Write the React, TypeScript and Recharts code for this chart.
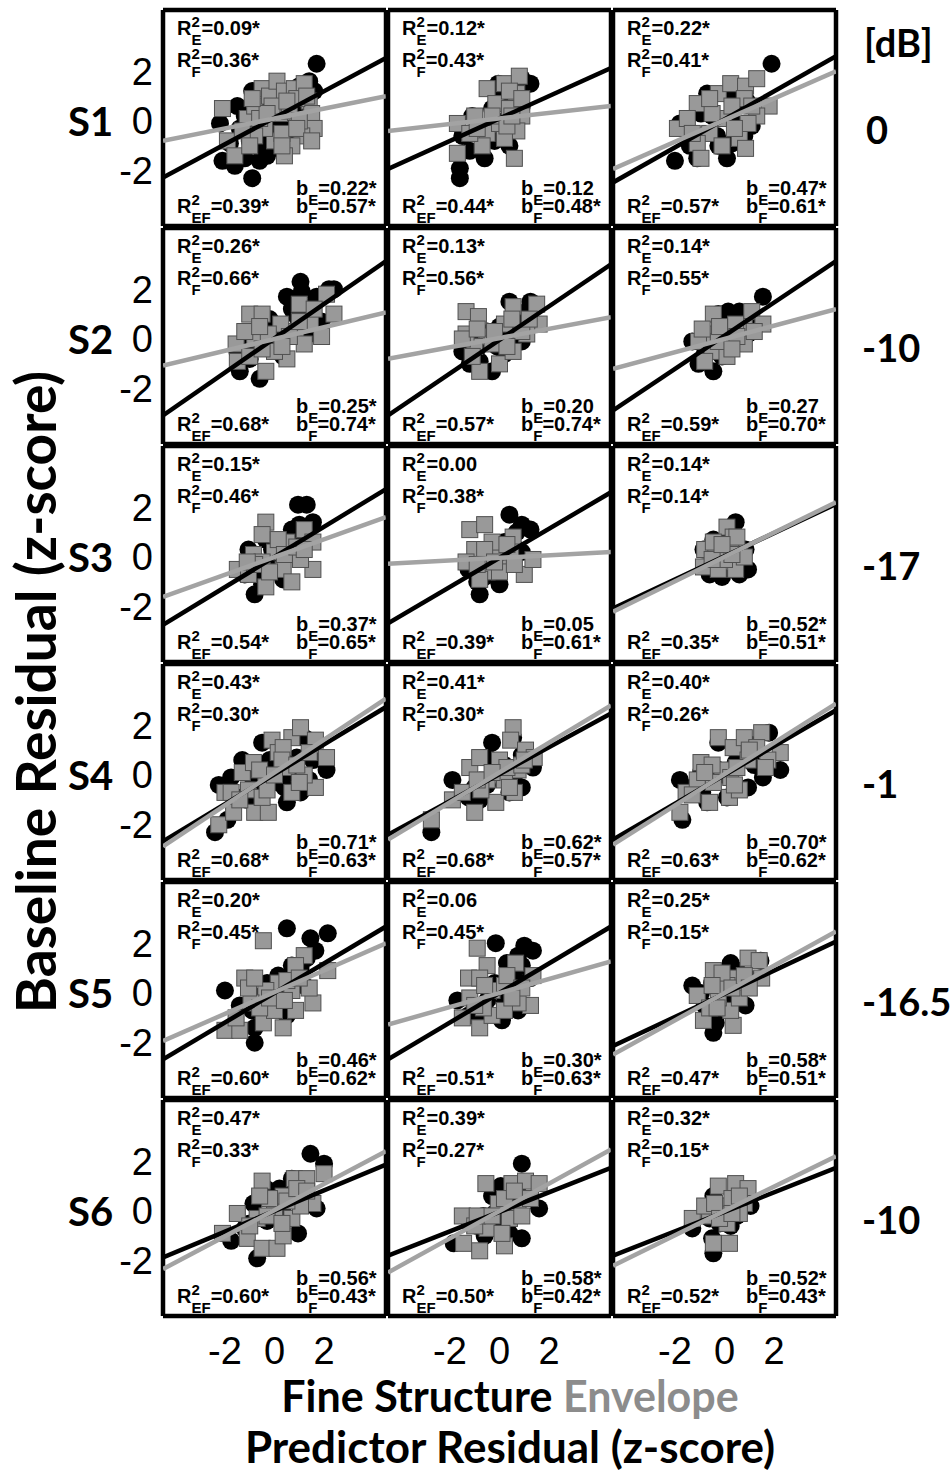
import { ScatterChart, Scatter, XAxis, YAxis } from 'recharts';

// row / column labels
const subjects = ['S1', 'S2', 'S3', 'S4', 'S5', 'S6'];
const snrLabels = ['0', '-10', '-17', '-1', '-16.5', '-10'];
const frameTicks = [-4, -2, 0, 2, 4];
const labelTicks = [-2, 0, 2];

// panel stats, row-major (S1 col1, S1 col2, S1 col3, S2 col1, ...)
const rE2 = ['0.09*', '0.12*', '0.22*', '0.26*', '0.13*', '0.14*', '0.15*', '0.00', '0.14*', '0.43*', '0.41*', '0.40*', '0.20*', '0.06', '0.25*', '0.47*', '0.39*', '0.32*'];
const rF2 = ['0.36*', '0.43*', '0.41*', '0.66*', '0.56*', '0.55*', '0.46*', '0.38*', '0.14*', '0.30*', '0.30*', '0.26*', '0.45*', '0.45*', '0.15*', '0.33*', '0.27*', '0.15*'];
const rEF2 = ['0.39*', '0.44*', '0.57*', '0.68*', '0.57*', '0.59*', '0.54*', '0.39*', '0.35*', '0.68*', '0.68*', '0.63*', '0.60*', '0.51*', '0.47*', '0.60*', '0.50*', '0.52*'];
const bE = ['0.22*', '0.12', '0.47*', '0.25*', '0.20', '0.27', '0.37*', '0.05', '0.52*', '0.71*', '0.62*', '0.70*', '0.46*', '0.30*', '0.58*', '0.56*', '0.58*', '0.52*'];
const bF = ['0.57*', '0.48*', '0.61*', '0.74*', '0.74*', '0.70*', '0.65*', '0.61*', '0.51*', '0.63*', '0.57*', '0.62*', '0.62*', '0.63*', '0.51*', '0.43*', '0.42*', '0.43*'];

// fine structure residuals (black circles), [x, y] per point
const fsPoints = [
  [[1.7, 2.3], [1.4, 1.6], [1.6, 1.2], [1.2, 1.0], [-0.9, 1.2], [-1.5, 0.6], [-1.2, 0.2], [-2.2, -0.1], [-2.1, -1.6], [-1.6, -1.8], [-1.2, -1.5], [-0.9, -2.3], [-0.6, -1.6], [-0.3, -1.4], [0.2, -1.1], [0.5, -0.9], [0.9, -0.4], [-0.5, 0.4], [0.3, 0.8], [0.8, 0.5], [-1.8, -0.9], [1.0, 1.4], [-0.2, -0.5], [0.0, 1.0], [-1.0, -0.8], [-0.7, -1.0], [0.6, 1.1], [1.3, 0.4], [-1.4, -0.3], [0.1, -0.2], [0.6, -0.3], [-0.4, -0.9]],
  [[-1.6, -1.9], [-1.6, -2.3], [-1.2, -1.2], [-0.6, -1.5], [-1.1, 0.2], [-0.05, 1.5], [1.25, 1.5], [0.9, 1.7], [-0.3, 0.5], [0.55, -0.2], [0.4, -1.0], [-1.5, -0.6], [0.0, 0.9], [0.6, 1.2], [-0.7, -0.3], [-0.2, -0.8], [0.9, 0.6], [0.2, 0.0]],
  [[1.9, 2.3], [-1.8, -0.1], [-2.0, -1.6], [-1.1, -1.5], [0.1, -1.5], [-0.7, 1.1], [0.25, 1.0], [0.4, 0.5], [-0.95, 0.3], [1.1, -0.2], [-0.25, -1.0], [0.8, -0.6], [-1.4, -1.0], [-0.5, 0.2], [0.6, -0.1], [0.9, 0.8], [-0.3, -0.6], [0.3, -0.9]],
  [[1.05, 2.3], [1.1, 1.9], [2.2, 2.0], [2.4, 2.0], [0.5, 1.7], [1.7, 1.7], [0.7, 1.2], [-0.2, 0.8], [1.9, 0.7], [-1.4, -1.3], [-0.6, -1.6], [-1.5, -0.5], [0.35, -0.7], [-0.85, 0.3], [1.4, 0.2], [-0.5, -0.1], [-1.0, -0.8], [-0.2, -0.4], [0.5, 0.2], [0.9, 0.9], [1.2, 1.3], [-1.1, -0.2], [0.1, 0.3]],
  [[0.4, 1.5], [1.25, 1.5], [0.7, 1.1], [-1.5, -0.5], [-1.2, -1.0], [-0.3, -1.3], [-0.8, -0.9], [0.2, -0.6], [0.9, -0.1], [-0.5, 0.3], [0.0, 0.5], [-1.2, 0.1], [-0.9, -0.4], [0.4, 0.2], [0.6, 0.7], [-0.1, -0.3], [1.0, 0.9]],
  [[1.55, 1.7], [0.15, 1.1], [0.6, 1.1], [-0.25, 1.0], [-1.05, -1.0], [-0.45, -1.3], [-0.8, -0.6], [-0.1, -0.7], [0.95, 0.2], [-1.3, -0.1], [0.25, -0.2], [-0.5, -0.2], [0.4, 0.4], [0.9, 0.8], [-0.7, -0.4]],
  [[0.95, 2.1], [1.3, 2.1], [1.55, 1.4], [-0.8, -1.5], [0.35, -0.9], [-1.05, 0.3], [-0.35, 0.7], [0.7, 1.1], [1.2, 0.7], [-0.2, -0.3], [-1.2, -0.7], [0.5, 0.1], [-0.5, -1.1], [-0.7, -0.6], [0.1, 0.0], [0.8, 0.4], [-0.1, 0.3], [1.0, 1.3]],
  [[0.4, 1.7], [1.25, 1.1], [0.7, 1.0], [-0.8, -1.5], [-1.25, -0.5], [0.0, -1.1], [-0.5, 0.2], [0.2, 0.6], [0.9, 0.2], [-0.3, -0.5], [-1.0, -0.1], [-0.6, -0.8], [0.3, 0.0], [0.6, 0.4], [-0.9, -1.0], [0.9, 1.3]],
  [[0.45, 1.4], [-0.85, 0.3], [-0.45, 0.7], [0.85, 0.3], [0.95, -0.5], [-0.6, -0.7], [-0.1, -0.8], [0.6, -0.7], [-0.1, 0.5], [0.25, -0.1], [0.2, 0.3], [-0.3, -0.3], [0.5, 0.0], [0.2, 1.0]],
  [[-2.4, -2.3], [-1.9, -1.8], [-2.25, -0.4], [-1.75, -0.1], [-1.3, 0.6], [-0.5, 1.3], [0.5, -1.1], [1.05, -0.7], [2.1, 0.2], [1.55, 0.6], [-0.2, 0.6], [-0.85, -0.2], [0.15, -0.3], [-1.1, -1.0], [0.7, 0.1], [1.2, 1.5], [-1.5, -0.9], [-0.6, -0.5], [0.3, 0.2], [0.9, 0.7], [-1.0, 0.4], [0.4, -0.5], [1.4, -0.2]],
  [[-2.75, -2.3], [-1.9, -0.2], [-0.3, 1.3], [0.55, 1.5], [1.35, 0.3], [0.9, -0.5], [-0.8, -1.0], [-1.25, -0.9], [0.0, 0.2], [-0.5, 0.7], [0.4, -0.7], [-0.5, -0.4], [0.2, 0.4], [0.6, 0.0], [-1.0, -0.5], [0.9, 0.8]],
  [[-1.7, -1.8], [-1.8, -0.2], [-0.7, -1.1], [-0.25, 1.3], [1.1, 1.2], [1.8, 1.7], [2.25, 0.2], [1.55, -0.1], [0.95, -0.5], [0.1, -0.9], [-0.95, 0.1], [0.45, 0.5], [-1.3, -0.5], [-0.9, -0.7], [0.0, 0.0], [0.6, 0.9], [1.2, 0.4], [-0.4, 0.3]],
  [[0.5, 2.6], [1.45, 2.2], [2.15, 2.4], [1.65, 1.7], [-2.0, 0.1], [-0.8, -2.0], [-0.8, -1.4], [-1.4, -0.5], [0.15, 0.7], [0.7, 1.1], [1.2, 0.3], [0.0, -0.5], [-0.5, -0.1], [1.05, 1.0], [0.5, -0.9], [-0.9, -0.7], [0.3, 0.2], [0.8, 0.6], [-0.3, 0.4], [1.3, 1.4]],
  [[-0.15, 2.0], [1.0, 1.9], [1.35, 1.7], [0.3, 1.2], [0.75, 1.5], [-1.7, -0.3], [-1.25, -0.9], [-0.8, -1.1], [0.1, -1.1], [0.75, -0.7], [-0.5, -0.3], [0.4, 0.1], [1.25, 0.6], [-1.0, -0.5], [0.2, -0.4], [0.6, 0.6], [-0.2, 0.4], [0.9, 1.1]],
  [[-1.3, 0.3], [-0.45, -1.6], [-0.35, -1.2], [0.25, 1.2], [1.45, 1.3], [0.95, 0.6], [0.85, -0.5], [-0.8, -0.5], [-0.1, 0.1], [-0.95, 0.0], [-0.5, 0.4], [0.4, -0.2], [0.5, 0.9], [-0.6, -0.9]],
  [[1.45, 2.3], [2.0, 1.9], [1.7, 0.1], [0.95, -0.9], [-0.7, -1.9], [-1.75, -1.2], [-0.85, 0.3], [-0.35, 0.9], [0.7, 1.3], [0.15, -0.3], [-1.2, -0.7], [1.2, 0.6], [-1.0, -0.5], [-0.3, -0.4], [0.4, 0.3], [0.9, 0.8], [-0.6, 0.5], [0.2, 0.9]],
  [[0.9, 1.9], [1.6, 0.1], [0.9, -1.1], [0.4, -0.9], [-1.85, -1.3], [-1.2, -0.5], [-0.3, 0.6], [0.05, 1.0], [0.75, 0.7], [-0.65, -0.2], [0.1, -0.5], [-0.9, -0.6], [-0.2, -0.1], [0.4, 0.3], [0.6, 1.0], [-0.6, -1.0]],
  [[-0.45, 0.6], [-0.5, -1.1], [-0.45, -1.7], [1.05, 0.2], [-1.3, -0.7], [-0.1, -0.1], [0.45, 0.6], [0.25, -0.6], [-0.6, -0.3], [0.1, 0.2], [0.5, -0.2], [-0.2, -0.5]],
];

// envelope residuals (grey squares), [x, y] per point
const envPoints = [
  [[-2.1, 0.5], [-1.9, -0.8], [-1.6, -1.4], [-1.1, 0.1], [-0.8, 0.6], [-0.5, 1.3], [-0.2, 1.0], [0.1, 1.6], [0.4, 1.2], [0.8, 1.3], [1.2, 1.5], [1.4, 0.8], [1.5, 0.3], [1.6, -0.3], [1.1, -0.6], [0.7, -1.0], [0.4, -1.4], [0.0, -0.8], [-0.4, -0.3], [-0.8, -0.6], [-1.3, -0.4], [-0.6, 0.1], [0.2, 0.3], [0.6, 0.4], [1.0, 0.0], [0.3, -0.5], [-0.1, 0.6], [0.9, 0.9], [-1.0, -1.0], [0.5, 0.8], [1.3, 1.0], [-0.3, 0.3], [0.9, -0.3], [-0.9, 0.9], [1.5, -0.8], [0.3, -1.0]],
  [[-1.7, -1.3], [-1.7, -0.1], [-1.0, 0.2], [-0.5, 1.3], [0.2, 1.5], [0.8, 1.8], [0.7, 1.1], [-0.15, 0.7], [0.4, 0.5], [0.9, 0.2], [0.7, -0.4], [0.6, -1.5], [0.2, -0.7], [-0.5, -0.5], [-0.7, -1.0], [0.0, -0.1], [-1.2, -0.5], [-0.3, 0.2], [0.4, 1.2], [0.9, 0.9], [-0.9, -0.3], [0.3, -0.2], [0.5, 0.2]],
  [[-1.9, -0.3], [-1.1, 0.7], [-0.25, 1.1], [0.25, 1.5], [0.85, 1.4], [1.3, 1.7], [1.8, 0.6], [1.3, 0.2], [0.8, 0.9], [-0.1, 0.1], [-0.6, -0.5], [-1.1, -0.9], [-0.95, -1.5], [-0.1, -1.0], [0.6, -0.7], [0.85, -1.1], [-1.5, 0.1], [0.95, -0.1], [-0.5, 0.3], [0.3, 0.6], [1.1, 0.6], [-0.6, 0.9], [0.4, -0.3], [-1.3, -0.5]],
  [[-1.0, 1.0], [-0.5, 1.0], [1.0, 1.4], [2.1, 1.8], [2.4, 1.0], [-1.55, -0.2], [-1.5, -0.9], [-0.35, -1.3], [0.5, -0.8], [0.0, -0.5], [0.85, 0.3], [1.45, 0.6], [1.9, 0.1], [0.25, 0.6], [-0.8, 0.0], [-1.0, -0.7], [1.2, -0.2], [-0.25, 0.2], [-0.5, -0.4], [0.6, 0.1], [1.0, 0.7], [-1.2, 0.3], [0.3, -0.3], [-0.6, 0.5], [1.6, 1.2]],
  [[-1.35, 1.1], [-0.85, 0.9], [0.55, 1.3], [1.5, 1.4], [1.6, 0.6], [1.1, 0.2], [0.2, 0.6], [-0.5, 0.1], [-1.0, -0.3], [-1.35, 0.2], [-0.8, -1.3], [0.0, -1.0], [0.55, -0.5], [-0.3, -0.2], [0.9, 0.3], [-1.5, 0.0], [-0.9, 0.4], [0.5, 0.8], [-0.2, 0.3], [0.3, -0.3], [-1.1, -0.7], [1.2, 0.8]],
  [[-0.45, 1.0], [1.1, 1.1], [1.55, 0.6], [0.8, 0.5], [0.1, 0.2], [-0.6, 0.2], [-1.05, -0.1], [-0.5, -0.5], [0.1, -0.7], [0.8, -0.2], [0.45, 0.6], [-0.25, -0.1], [-0.8, -0.9], [-0.2, 0.5], [0.5, 0.1], [1.2, 0.3], [-0.9, 0.4], [0.3, -0.4]],
  [[-0.35, 1.4], [-0.5, 0.9], [1.2, 1.1], [1.55, -0.5], [1.55, 0.6], [-1.5, -0.5], [-1.05, -0.7], [-0.35, -1.2], [0.35, -0.5], [0.5, 0.6], [0.0, 0.2], [-0.85, 0.1], [1.05, -0.1], [0.7, -1.0], [0.15, 0.7], [-0.5, -0.2], [-0.8, -0.3], [0.4, 0.1], [0.9, 0.4], [-0.2, -0.6], [1.2, 0.3], [-1.1, -0.2]],
  [[-1.2, 1.1], [-0.6, 1.3], [0.55, 0.8], [1.0, -0.7], [1.35, -0.1], [-1.0, 0.3], [-1.35, -0.2], [-0.5, -0.6], [0.2, -0.2], [-0.15, 0.2], [-0.8, -0.9], [0.45, 0.2], [0.0, -0.6], [-0.3, 0.6], [-0.6, 0.3], [0.3, 0.5], [-0.9, -0.3], [0.6, -0.3], [-0.2, -0.2]],
  [[0.1, 1.2], [0.35, 0.8], [-0.8, 0.3], [-0.35, 0.1], [0.6, 0.2], [-0.85, -0.4], [-0.25, -0.5], [0.45, -0.5], [0.8, 0.0], [0.0, -0.1], [-0.45, 0.6], [0.25, 0.5], [-0.5, -0.1], [0.3, 0.1], [0.5, 0.8], [-0.1, 0.5]],
  [[-2.25, -2.0], [-2.0, -0.7], [-1.65, -1.5], [-0.8, -1.5], [-0.25, -1.5], [-1.3, 0.1], [-0.85, 0.5], [-0.1, 1.4], [0.7, 1.5], [1.05, 1.9], [1.65, 1.4], [2.1, 0.7], [1.65, -0.5], [1.2, 0.0], [0.5, 0.3], [-0.35, -0.1], [0.15, 0.9], [-1.05, -0.6], [-1.75, -0.7], [-0.5, -0.9], [0.7, -0.7], [0.35, 1.1], [-1.4, -1.0], [-0.6, 0.2], [0.3, 0.6], [0.9, 0.4], [1.4, 0.9], [-0.3, -0.6], [0.0, 0.0], [1.0, -0.3]],
  [[-2.75, -1.8], [-1.9, -1.0], [-1.0, -1.5], [-0.15, -1.1], [-1.2, 0.3], [-0.8, 0.7], [0.55, 1.9], [0.45, 1.4], [1.05, 1.0], [1.4, 0.7], [0.75, 0.2], [0.2, -0.2], [-0.5, -0.2], [0.6, -0.7], [-0.75, -0.6], [-1.5, -0.7], [0.0, 0.6], [-0.9, -0.2], [0.3, 0.3], [0.9, 0.4], [-0.3, 0.1], [0.4, -0.5], [1.0, 0.6]],
  [[-1.8, -1.5], [-1.55, -0.7], [-0.95, 0.5], [-0.25, 1.5], [0.35, 1.1], [0.8, 1.5], [1.5, 1.7], [1.3, 1.1], [2.25, 0.9], [1.75, 0.6], [1.65, 0.3], [0.95, 0.6], [-0.1, 0.2], [-0.6, -1.1], [0.2, -0.9], [0.6, -0.6], [-0.45, -0.3], [-1.1, -0.2], [0.25, -0.1], [-1.3, -0.8], [-0.5, 0.4], [0.5, 0.3], [1.0, 1.0], [0.4, -0.4], [-0.8, 0.1]],
  [[-0.45, 2.1], [-1.2, 0.6], [-2.0, -1.5], [-1.4, -1.5], [-0.45, -1.2], [0.35, -1.4], [0.85, -0.7], [1.55, -0.4], [1.2, 1.5], [2.15, 0.9], [0.85, 1.1], [0.15, 0.4], [-0.35, 0.1], [-0.95, -0.4], [-1.55, -1.0], [0.7, 0.1], [0.0, -0.7], [1.4, 0.2], [-1.05, 0.2], [-0.6, -0.6], [0.5, 0.5], [1.0, 0.6], [-0.2, -0.2], [0.4, -0.3], [-0.8, 0.6]],
  [[-0.9, 1.8], [-0.5, 1.1], [-1.25, 0.6], [-0.8, 0.6], [0.65, 1.2], [1.35, 0.7], [1.25, -0.5], [0.75, -0.4], [-0.3, 0.1], [0.2, 0.3], [-1.5, -1.0], [-0.8, -1.4], [-0.3, -0.9], [-0.65, -0.6], [-1.2, -0.2], [0.2, -0.7], [-0.6, 0.3], [0.3, 0.7], [0.9, 0.2], [-1.0, -0.5], [0.5, -0.2]],
  [[-0.45, 0.9], [0.45, 0.6], [0.95, 1.4], [1.4, 1.3], [1.5, 0.6], [-1.1, -0.1], [-0.85, -1.1], [0.35, -1.3], [0.25, -0.7], [-0.25, -0.2], [0.1, 0.3], [0.6, -0.2], [-0.6, -0.6], [-0.1, 0.8], [-0.5, 0.3], [0.3, 0.2], [0.8, 0.7], [-0.3, -0.6], [1.0, 0.2]],
  [[-1.5, -0.1], [-2.1, -0.9], [-0.5, 1.2], [0.8, 1.3], [1.3, 1.3], [2.0, 1.5], [1.55, 0.3], [-1.1, -1.1], [-0.5, -1.5], [0.1, -1.5], [0.35, -1.0], [0.7, -0.3], [0.0, 0.1], [-0.7, -0.3], [0.35, 0.6], [-0.2, 0.5], [1.05, 0.2], [-1.0, -0.6], [-0.3, -0.2], [0.5, 0.4], [0.9, 0.9], [-0.6, 0.6], [0.3, -0.5], [1.3, 0.8]],
  [[-0.55, 1.1], [0.5, 1.1], [1.05, 1.2], [1.6, 1.1], [-1.5, -0.2], [-1.45, -1.3], [-0.8, -1.6], [0.2, -1.4], [-0.05, 0.3], [0.75, 0.1], [-0.5, -0.7], [-1.0, -0.6], [0.4, -0.3], [1.25, 0.5], [-0.9, -0.2], [0.2, 0.5], [0.6, 0.8], [-0.3, -0.2], [0.9, -0.2], [0.1, -0.9]],
  [[-1.3, -0.3], [-0.45, -1.3], [0.2, -1.3], [-0.25, 1.0], [0.45, 1.1], [0.95, 0.9], [0.8, 0.3], [-0.1, 0.2], [-0.6, -0.2], [0.1, -0.5], [0.6, -0.1], [-0.8, 0.2], [-0.4, 0.3], [0.3, 0.5], [0.6, 0.6], [-0.2, -0.3], [0.3, -0.1]],
];

// regression lines: y at the left and right edge of each panel
const lineX = [-4.5, 4.5];
const fsLine = [
  [-2.27, 2.53], [-1.93, 2.13], [-2.47, 2.6],
  [-3.07, 3.13], [-3.07, 3.0], [-2.87, 3.13],
  [-2.73, 2.73], [-2.67, 2.6], [-2.07, 2.13],
  [-2.67, 2.73], [-2.4, 2.47], [-2.6, 2.6],
  [-2.67, 2.67], [-2.67, 2.67], [-2.13, 2.07],
  [-1.87, 1.87], [-1.8, 1.73], [-1.8, 1.73],
];
const envLine = [
  [-0.8, 1.0], [-0.4, 0.6], [-1.93, 2.0],
  [-1.07, 1.07], [-0.8, 0.87], [-1.2, 1.2],
  [-1.6, 1.6], [-0.27, 0.2], [-2.2, 2.2],
  [-2.87, 3.07], [-2.6, 2.8], [-2.8, 2.87],
  [-1.93, 2.0], [-1.27, 1.27], [-2.47, 2.47],
  [-2.33, 2.4], [-2.47, 2.47], [-2.2, 2.2],
];

const X_DOMAIN: [number, number] = [-4.5, 4.5];
const Y_DOMAIN: [number, number] = [-4.22, 4.46];
const PLOT_X0 = 163;
const PLOT_Y0 = 10;
const COL_PITCH = 225;
const ROW_PITCH = 218;
const PW = 223;
const PH = 216;
const M = 5;
const LABEL_W = 70;
const LABEL_H = 70;
const ZERO_OFF = (PH * Y_DOMAIN[1]) / (Y_DOMAIN[1] - Y_DOMAIN[0]);

const TITLE_FONT = 'Lato, "Open Sans", sans-serif';
const ARIAL = '"Liberation Sans", Arial, sans-serif';

const frameLine = { stroke: '#000', strokeWidth: 4.5 };
const frameTick = { stroke: '#000', strokeWidth: 2.5 };
const tickFont = { fontSize: 38, fill: '#000', fontFamily: ARIAL };

const Dot = (p: any) => <circle cx={p.cx} cy={p.cy} r={9} fill="#000" />;
const Square = (p: any) => (
  <rect x={p.cx - 8} y={p.cy - 8} width={16} height={16} fill="#999" stroke="#505050" strokeWidth={1} />
);
const NoShape = () => <g />;

const Stat = ({ x, y, base, sup, sub, value }: any) => (
  <text x={x} y={y} fontSize={20} fontWeight="bold" fontFamily={ARIAL} fill="#000">
    {base}
    {sup && <tspan fontSize={15} dy={-8}>{sup}</tspan>}
    <tspan fontSize={15} dx={sup ? -8.3 : 0} dy={sup ? 18 : 10}>{sub}</tspan>
    <tspan dy={-10}>{value}</tspan>
  </text>
);

function Panel({ i }: { i: number }) {
  const r = Math.floor(i / 3);
  const c = i % 3;
  const px = PLOT_X0 + c * COL_PITCH;
  const py = PLOT_Y0 + r * ROW_PITCH;
  const lw = c === 0 ? LABEL_W : 0;
  const bh = r === 5 ? LABEL_H : 0;
  const fs = fsPoints[i].map(([x, y]) => ({ x, y }));
  const env = envPoints[i].map(([x, y]) => ({ x, y }));
  const fsFit = lineX.map((x, k) => ({ x, y: fsLine[i][k] }));
  const envFit = lineX.map((x, k) => ({ x, y: envLine[i][k] }));
  const axisCommon = { type: 'number' as const, allowDataOverflow: true };

  return (
    <>
      <div style={{ position: 'absolute', left: px - M - lw, top: py - M }}>
        <ScatterChart
          width={PW + 2 * M + lw}
          height={PH + 2 * M + bh}
          margin={{ top: M, right: M, bottom: M, left: M }}
        >
          <XAxis xAxisId="b" dataKey="x" {...axisCommon} domain={X_DOMAIN} ticks={frameTicks} orientation="bottom" mirror tick={false} tickSize={6} axisLine={frameLine} tickLine={frameTick} />
          <XAxis xAxisId="t" dataKey="x" {...axisCommon} domain={X_DOMAIN} ticks={frameTicks} orientation="top" mirror tick={false} tickSize={6} axisLine={frameLine} tickLine={frameTick} />
          <YAxis yAxisId="l" dataKey="y" {...axisCommon} domain={Y_DOMAIN} ticks={frameTicks} orientation="left" mirror tick={false} tickSize={6} axisLine={frameLine} tickLine={frameTick} />
          <YAxis yAxisId="r" dataKey="y" {...axisCommon} domain={Y_DOMAIN} ticks={frameTicks} orientation="right" mirror tick={false} tickSize={6} axisLine={frameLine} tickLine={frameTick} />
          {c === 0 && (
            <YAxis yAxisId="lab" dataKey="y" {...axisCommon} domain={Y_DOMAIN} ticks={labelTicks} orientation="left" width={lw} axisLine={false} tickLine={false} tickSize={0} tickMargin={10} tick={tickFont} />
          )}
          {r === 5 && (
            <XAxis xAxisId="lab" dataKey="x" {...axisCommon} domain={X_DOMAIN} ticks={labelTicks} orientation="bottom" height={bh} axisLine={false} tickLine={false} tickSize={0} tickMargin={21} tick={tickFont} />
          )}
          <Scatter xAxisId="b" yAxisId="l" data={fs} shape={Dot} isAnimationActive={false} />
          <Scatter xAxisId="b" yAxisId="l" data={env} shape={Square} isAnimationActive={false} />
          <Scatter xAxisId="b" yAxisId="l" data={fsFit} shape={NoShape} line={{ stroke: '#000', strokeWidth: 4.5 }} isAnimationActive={false} />
          <Scatter xAxisId="b" yAxisId="l" data={envFit} shape={NoShape} line={{ stroke: '#a3a3a3', strokeWidth: 4.5 }} isAnimationActive={false} />
        </ScatterChart>
      </div>
      <svg
        width={PW}
        height={PH}
        style={{ position: 'absolute', left: px, top: py, overflow: 'visible', pointerEvents: 'none' }}
      >
        <Stat x={14} y={25} base="R" sup="2" sub="E" value={'=' + rE2[i]} />
        <Stat x={14} y={57} base="R" sup="2" sub="F" value={'=' + rF2[i]} />
        <Stat x={14} y={203} base="R" sup="2" sub="EF" value={'=' + rEF2[i]} />
        <Stat x={133} y={185} base="b" sub="E" value={'=' + bE[i]} />
        <Stat x={133} y={203} base="b" sub="F" value={'=' + bF[i]} />
      </svg>
    </>
  );
}

const bold = { fontFamily: TITLE_FONT, fontWeight: 700, color: '#000', lineHeight: 1, whiteSpace: 'nowrap' as const };

export default function App() {
  return (
    <div style={{ position: 'absolute', left: 0, top: 0, width: 951, height: 1471, background: '#fff', overflow: 'hidden' }}>
      {fsPoints.map((_, i) => (
        <Panel key={i} i={i} />
      ))}
      {subjects.map((s, r) => (
        <div key={s} style={{ ...bold, position: 'absolute', left: 68, top: PLOT_Y0 + r * ROW_PITCH + ZERO_OFF, transform: 'translateY(-50%)', fontSize: 40 }}>
          {s}
        </div>
      ))}
      <div style={{ ...bold, position: 'absolute', left: 864, top: 42, transform: 'translateY(-50%)', fontSize: 38 }}>[dB]</div>
      {snrLabels.map((s, r) => (
        <div key={r} style={{ ...bold, position: 'absolute', left: s === '0' ? 866 : 862, top: PLOT_Y0 + r * ROW_PITCH + ZERO_OFF + 8, transform: 'translateY(-50%)', fontSize: 38 }}>
          {s}
        </div>
      ))}
      <div style={{ ...bold, position: 'absolute', left: 35, top: 692, transform: 'translate(-50%, -50%) rotate(-90deg)', fontSize: 55 }}>
        Baseline Residual (z-score)
      </div>
      <div style={{ ...bold, position: 'absolute', left: 510, top: 1395, transform: 'translate(-50%, -50%)', fontSize: 43 }}>
        Fine Structure <span style={{ color: '#8c8c8c' }}>Envelope</span>
      </div>
      <div style={{ ...bold, position: 'absolute', left: 510, top: 1446, transform: 'translate(-50%, -50%)', fontSize: 44 }}>
        Predictor Residual (z-score)
      </div>
    </div>
  );
}
